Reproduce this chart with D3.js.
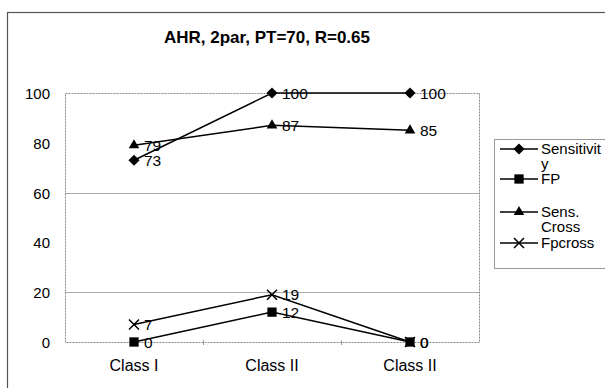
<!DOCTYPE html>
<html>
<head>
<meta charset="utf-8">
<script src="https://cdn.jsdelivr.net/npm/d3@7"></script>
<style>
  body { margin: 0; background: #fff; }
  text { font-family: "Liberation Sans", Arial, sans-serif; }
</style>
</head>
<body>
<div id="chart"></div>
<script>
// chart data
const categories = ["Class I", "Class II", "Class II"]
const sensitivity = [73, 100, 100]
const fp = [0, 12, 0]
const sensCross = [79, 87, 85]
const fpCross = [7, 19, 0]
const yTicks = [0, 20, 40, 60, 80, 100]
const gridValues = [20, 60]

const series = [
  {name: "Sensitivity", label: ["Sensitivit", "y"], values: sensitivity, symbol: "diamond"},
  {name: "FP", label: ["FP"], values: fp, symbol: "square"},
  {name: "Sens. Cross", label: ["Sens.", "Cross"], values: sensCross, symbol: "triangle"},
  {name: "Fpcross", label: ["Fpcross"], values: fpCross, symbol: "cross"}
]

const width = 605, height = 388
const margin = {top: 93, left: 65, right: 126, bottom: 46}

const svg = d3.select("#chart").append("svg")
  .attr("width", width)
  .attr("height", height)

// outer chart border
svg.append("rect")
  .attr("x", 7.5).attr("y", 12.5)
  .attr("width", 605).attr("height", 400)
  .style("fill", "none").style("stroke", "#555").style("stroke-width", 1.2)

svg.append("text")
  .attr("x", 267).attr("y", 43)
  .attr("text-anchor", "middle")
  .style("font-size", "17px").style("font-weight", "bold")
  .text("AHR, 2par, PT=70, R=0.65")

const x = d3.scaleBand()
  .domain(d3.range(categories.length))
  .range([margin.left, width - margin.right])

const y = d3.scaleLinear()
  .domain([0, 100])
  .range([height - margin.bottom, margin.top])

const g = svg.append("g")

// grid lines
g.selectAll(".grid")
  .data(gridValues)
  .enter().append("line")
  .attr("x1", margin.left).attr("x2", width - margin.right)
  .attr("y1", d => Math.round(y(d)) + 0.5).attr("y2", d => Math.round(y(d)) + 0.5)
  .style("stroke", "#aaa")

// dashed plot border
g.append("rect")
  .attr("x", margin.left + 0.5).attr("y", y(100) + 0.5)
  .attr("width", x.range()[1] - margin.left).attr("height", y(0) - y(100))
  .style("fill", "none").style("stroke", "#888").style("stroke-dasharray", "2,1")

// category ticks
g.selectAll(".xtick")
  .data(d3.range(1, categories.length))
  .enter().append("line")
  .attr("x1", d => Math.round(x(d)) + 0.5).attr("x2", d => Math.round(x(d)) + 0.5)
  .attr("y1", y(0) - 2).attr("y2", y(0) + 3)
  .style("stroke", "#999")

g.selectAll(".xlabel")
  .data(categories)
  .enter().append("text")
  .attr("x", (d, i) => x(i) + x.bandwidth() / 2)
  .attr("y", 371)
  .attr("text-anchor", "middle")
  .style("font-size", "16px")
  .text(d => d)

g.selectAll(".ylabel")
  .data(yTicks)
  .enter().append("text")
  .attr("x", 50)
  .attr("y", d => y(d) + 6)
  .attr("text-anchor", "end")
  .style("font-size", "15px")
  .text(d => d)

const symbolTypes = {
  diamond: d3.symbolDiamond2,
  square: d3.symbolSquare2,
  triangle: d3.symbolTriangle2,
  cross: d3.symbolX
}

function drawMarker(sel, type) {
  if (type === "cross") {
    sel.append("path")
      .attr("d", "M-5,-5L5,5M-5,5L5,-5")
      .style("stroke", "#000").style("stroke-width", 1.5).style("fill", "none")
  } else {
    const size = {diamond: 80, square: 110, triangle: 80}[type]
    sel.append("path")
      .attr("d", d3.symbol().type(symbolTypes[type]).size(size)())
      .style("fill", "#000")
  }
}

const line = d3.line()
  .x((d, i) => x(i) + x.bandwidth() / 2)
  .y(d => y(d))

series.forEach(s => {
  g.append("path")
    .datum(s.values)
    .attr("d", line)
    .style("fill", "none").style("stroke", "#000").style("stroke-width", 1.5)

  s.values.forEach((v, i) => {
    const m = g.append("g")
      .attr("transform", "translate(" + (x(i) + x.bandwidth() / 2) + "," + y(v) + ")")
    drawMarker(m, s.symbol)
    g.append("text")
      .attr("x", x(i) + x.bandwidth() / 2 + 10)
      .attr("y", y(v) + 5.5)
      .style("font-size", "15.5px")
      .text(v)
  })
})

// legend
const legend = svg.append("g")
legend.append("rect")
  .attr("x", 494.5).attr("y", 139.5)
  .attr("width", 130).attr("height", 129)
  .style("fill", "#fff").style("stroke", "#999")

const legendY = [149, 179, 212, 243]
series.forEach((s, i) => {
  const ly = legendY[i]
  legend.append("line")
    .attr("x1", 500).attr("x2", 538)
    .attr("y1", ly).attr("y2", ly)
    .style("stroke", "#000").style("stroke-width", 1.5)
  const m = legend.append("g").attr("transform", "translate(519," + ly + ")")
  drawMarker(m, s.symbol)
  s.label.forEach((t, j) => {
    legend.append("text")
      .attr("x", 541)
      .attr("y", ly + 5 + j * 15)
      .style("font-size", "15px")
      .text(t)
  })
})
</script>
</body>
</html>
